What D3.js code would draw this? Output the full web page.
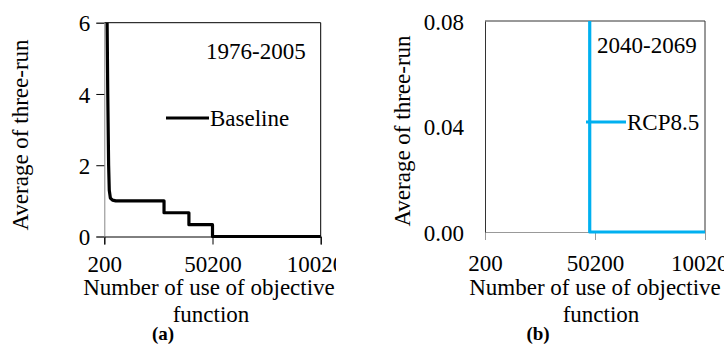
<!DOCTYPE html>
<html>
<head>
<meta charset="utf-8">
<script src="https://cdn.jsdelivr.net/npm/d3@7"></script>
<style>
  body { margin: 0; background: #fff; }
  svg, svg text { font-family: "Liberation Serif", "DejaVu Serif", serif !important; fill: #000; }
</style>
</head>
<body>
<svg id="chart" width="724" height="350"></svg>
<script>
// x ticks shared by both panels
const xTicks = [200, 50200, 100200];

// panel (a): baseline 1976-2005
const yTicksA = [0, 2, 4, 6];
const baselineX = [1300, 1500, 1800, 2200, 2500, 3000, 4000, 5500, 27800, 27800, 39300, 39300, 50200, 50200, 100200];
const baselineY = [6.6, 6, 4, 2, 1.3, 1.08, 1.02, 1.0, 1.0, 0.667, 0.667, 0.333, 0.333, 0, 0];

// panel (b): RCP8.5 2040-2069
const yTicksB = [0.00, 0.04, 0.08];
const rcpX = [47800, 47800, 100200];
const rcpY = [0.09, 0, 0];

const svg = d3.select("#chart");
const fs = 23;
const serif = "'Liberation Serif', 'DejaVu Serif', serif";

function panel(opt) {
    const g = svg.append("g").attr("clip-path", `url(#${opt.id}-clip)`)
        .attr("font-family", serif);
    svg.append("clipPath").attr("id", opt.id + "-clip")
        .append("rect").attr("x", opt.clipX0).attr("y", 0)
        .attr("width", opt.clipX1 - opt.clipX0).attr("height", 350);

    const x = d3.scaleLinear().domain([200, 100200]).range(opt.xr);
    const y = d3.scaleLinear().domain(opt.yd).range(opt.yr);

    // plot frame (top + right)
    g.append("path")
        .attr("d", `M${x(200)},${y(opt.yd[1])}H${x(100200)}V${y(0)}`)
        .attr("fill", "none").attr("stroke", opt.frameColor).attr("stroke-width", 1);

    // x axis
    const xAxis = g.append("g")
        .attr("transform", `translate(0,${y(0)})`)
        .call(d3.axisBottom(x).tickValues(xTicks).tickSize(8).tickFormat(d3.format("d")));
    xAxis.attr("font-family", serif).attr("font-size", fs);
    xAxis.select(".domain").attr("stroke", opt.xAxisColor);
    xAxis.selectAll(".tick line").attr("stroke", opt.xAxisColor);
    xAxis.selectAll(".tick text")
        .attr("y", 0).attr("dy", null)
        .attr("transform", `translate(0,${opt.xLabelBase - y(0)})`);

    // y axis
    const yAxis = g.append("g")
        .attr("transform", `translate(${x(200)},0)`)
        .call(d3.axisLeft(y).tickValues(opt.yTicks).tickSize(opt.yTickSize)
            .tickPadding(opt.yPad).tickFormat(opt.yFormat));
    yAxis.attr("font-family", serif).attr("font-size", fs);
    yAxis.select(".domain").attr("stroke", opt.yAxisColor);
    yAxis.selectAll(".tick line").attr("stroke", "#000");
    yAxis.selectAll(".tick text").attr("dy", "0.35em");

    // data line, clipped to plot area
    const pc = opt.id + "-plot";
    svg.append("clipPath").attr("id", pc)
        .append("rect").attr("x", x(200)).attr("y", y(opt.yd[1]))
        .attr("width", x(100200) - x(200) + 2).attr("height", y(0) - y(opt.yd[1]) + 2);
    const pts = opt.xs.map((v, i) => [v, opt.ys[i]]);
    g.append("g").attr("clip-path", `url(#${pc})`)
        .append("path")
        .datum(pts)
        .attr("d", d3.line().x(d => x(d[0])).y(d => y(d[1])))
        .attr("fill", "none").attr("stroke", opt.color).attr("stroke-width", 3.2)
        .attr("stroke-linejoin", "round");

    // period label
    g.append("text").attr("x", opt.periodX).attr("y", opt.periodY)
        .attr("font-size", fs).text(opt.period);

    // legend
    g.append("line").attr("x1", opt.legX).attr("x2", opt.legX + opt.legW)
        .attr("y1", opt.legY).attr("y2", opt.legY)
        .attr("stroke", opt.color).attr("stroke-width", 3.2);
    g.append("text").attr("x", opt.legX + opt.legW + 1).attr("y", opt.legY).attr("dy", "0.35em")
        .attr("font-size", fs).text(opt.name);

    // axis titles
    g.append("text")
        .attr("transform", `translate(${opt.yTitleX},${opt.yTitleY}) rotate(-90)`)
        .attr("text-anchor", "middle").attr("font-size", fs)
        .text("Average of three-run");
    const xt = g.append("text").attr("text-anchor", "middle").attr("font-size", fs);
    xt.append("tspan").attr("x", opt.xTitleX).attr("y", 295).text("Number of use of objective");
    xt.append("tspan").attr("x", opt.xTitleX2).attr("y", 322).text("function");

    g.append("text").attr("x", opt.tagX).attr("y", 340).attr("text-anchor", "middle")
        .attr("font-size", 19).attr("font-weight", "bold").text(opt.tag);
}

panel({
    id: "pa", clipX0: 0, clipX1: 336,
    xr: [104.3, 320.7], yd: [0, 6], yr: [236.5, 22.7],
    yTicks: yTicksA, yTickSize: 8, yPad: 6, yFormat: d3.format("d"),
    frameColor: "#000", xAxisColor: "#000", yAxisColor: "#888",
    xLabelBase: 272,
    xs: baselineX, ys: baselineY, color: "#000",
    period: "1976-2005", periodX: 206, periodY: 59,
    name: "Baseline", legX: 166, legW: 43, legY: 118,
    yTitleX: 28, yTitleY: 135,
    xTitleX: 209, xTitleX2: 211, tag: "(a)", tagX: 163
});

panel({
    id: "pb", clipX0: 362, clipX1: 724,
    xr: [485, 705], yd: [0, 0.08], yr: [232, 21],
    yTicks: yTicksB, yTickSize: 0, yPad: 21, yFormat: d3.format(".2f"),
    frameColor: "#333", xAxisColor: "#999", yAxisColor: "#333",
    xLabelBase: 271,
    xs: rcpX, ys: rcpY, color: "#00B0F0",
    period: "2040-2069", periodX: 597, periodY: 53,
    name: "RCP8.5", legX: 586, legW: 40, legY: 122,
    yTitleX: 410, yTitleY: 131,
    xTitleX: 595, xTitleX2: 601, tag: "(b)", tagX: 538
});
</script>
</body>
</html>
